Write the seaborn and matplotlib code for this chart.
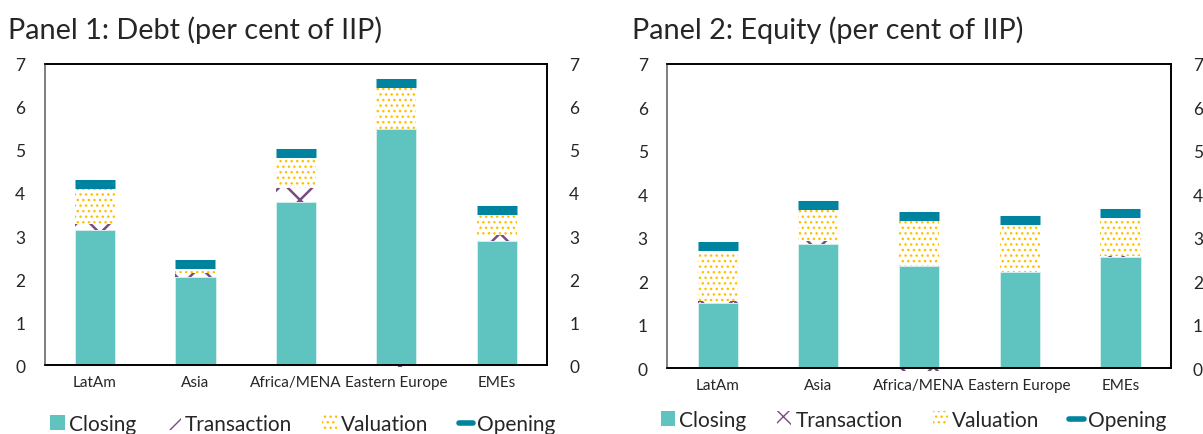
import numpy as np
import matplotlib
matplotlib.use('Agg')
import matplotlib.pyplot as plt
import seaborn as sns
from matplotlib.patches import Patch
from matplotlib.lines import Line2D

# data
categories = ['LatAm', 'Asia', 'Africa/MENA', 'Eastern Europe', 'EMEs']

debt_closing = [3.15, 2.05, 3.79, 5.49, 2.89]
debt_transaction = [0.13, 0.10, 0.32, -0.05, 0.13]
debt_valuation = [0.81, 0.10, 0.74, 0.95, 0.48]
debt_opening = [4.20, 2.36, 4.94, 6.55, 3.60]

equity_closing = [1.49, 2.86, 2.35, 2.20, 2.55]
equity_transaction = [0.04, 0.05, -0.06, 0.00, 0.03]
equity_valuation = [1.17, 0.74, 1.04, 1.09, 0.88]
equity_opening = [2.81, 3.75, 3.49, 3.40, 3.56]

y_ticks = [0, 1, 2, 3, 4, 5, 6, 7]

CLOSING = '#5FC4C0'
TRANSACTION = '#7A4A82'
VALUATION = '#FFC000'
OPENING = '#00839F'

sns.set_theme(style='white')
plt.rcParams['font.family'] = ['Lato', 'DejaVu Sans']
plt.rcParams['hatch.linewidth'] = 1.0
plt.rcParams['axes.edgecolor'] = 'black'
plt.rcParams['axes.linewidth'] = 1.2


def hatch_width(patches, lw):
    # per-patch hatch width where matplotlib supports it
    for p in patches:
        if hasattr(p, 'set_hatch_linewidth'):
            p.set_hatch_linewidth(lw)


def draw_panel(ax, closing, transaction, valuation, opening):
    x = np.arange(len(categories))
    closing = np.array(closing)
    transaction = np.array(transaction)
    valuation = np.array(valuation)

    sns.barplot(x=categories, y=closing, ax=ax, color=CLOSING, saturation=1,
                width=0.4, edgecolor='#D8F0EF', linewidth=0.6)

    # transaction goes on top of closing if positive, below zero if negative
    t_bottom = np.where(transaction >= 0, closing, 0)
    tb = ax.bar(x, transaction, 0.4, bottom=t_bottom, facecolor='white',
                edgecolor=TRANSACTION, hatch='x', linewidth=0, clip_on=False, zorder=2)
    hatch_width(tb, 1.8)

    v_bottom = closing + np.clip(transaction, 0, None)
    vb = ax.bar(x, valuation, 0.4, bottom=v_bottom, facecolor='white',
                edgecolor=VALUATION, hatch='...', linewidth=0, zorder=2)
    hatch_width(vb, 1.0)

    ax.plot(x, opening, ls='none', marker='_', ms=29, mew=6.5,
            color=OPENING, zorder=3)

    ax.set_xlim(-0.5, len(categories) - 0.5)
    ax.set_ylim(0, 7)
    ax.set_yticks(y_ticks)
    ax.set_yticklabels([str(t) for t in y_ticks], fontsize=12.5)
    ax.tick_params(axis='y', length=0, pad=14)
    ax.tick_params(axis='x', length=0, pad=7, labelsize=11)
    ax.set_xlabel('')
    ax.set_ylabel('')
    ax.spines['left'].set_color('#7F7F7F')

    ax2 = ax.twinx()
    ax2.set_ylim(0, 7)
    ax2.set_yticks(y_ticks)
    ax2.set_yticklabels([str(t) for t in y_ticks], fontsize=12.5)
    ax2.tick_params(axis='y', length=0, pad=16)
    ax2.spines['left'].set_color('#7F7F7F')
    ax2.grid(False)
    return ax2


fig = plt.figure(figsize=(12.03, 4.35), dpi=100)
ax_debt = fig.add_axes([0.0372, 0.1586, 0.4175, 0.692])
ax_eq = fig.add_axes([0.5547, 0.1517, 0.4185, 0.6996])

draw_panel(ax_debt, debt_closing, debt_transaction, debt_valuation, debt_opening)
draw_panel(ax_eq, equity_closing, equity_transaction, equity_valuation, equity_opening)

fig.text(8 / 1203, 1 - 30 / 435, 'Panel 1: Debt (per cent of IIP)', fontsize=20.8, va='center')
fig.text(632 / 1203, 1 - 30 / 435, 'Panel 2: Equity (per cent of IIP)', fontsize=20.8, va='center')

handles = [
    Patch(facecolor=CLOSING, edgecolor='none', label='Closing'),
    Patch(facecolor='white', edgecolor=TRANSACTION, hatch='x', linewidth=0, label='Transaction'),
    Patch(facecolor='white', edgecolor=VALUATION, hatch='...', linewidth=0, label='Valuation'),
    Line2D([0], [0], color=OPENING, lw=4, label='Opening'),
]
legend_style = dict(ncol=4, frameon=False, fontsize=15, handlelength=0.7,
                    handleheight=0.7, handletextpad=0.2, columnspacing=1.45)
ax_debt.legend(handles=handles, loc='center', bbox_to_anchor=(0.514, -0.196), **legend_style)
ax_eq.legend(handles=handles, loc='center', bbox_to_anchor=(0.489, -0.171), **legend_style)

fig.savefig('out.png', dpi=100)
